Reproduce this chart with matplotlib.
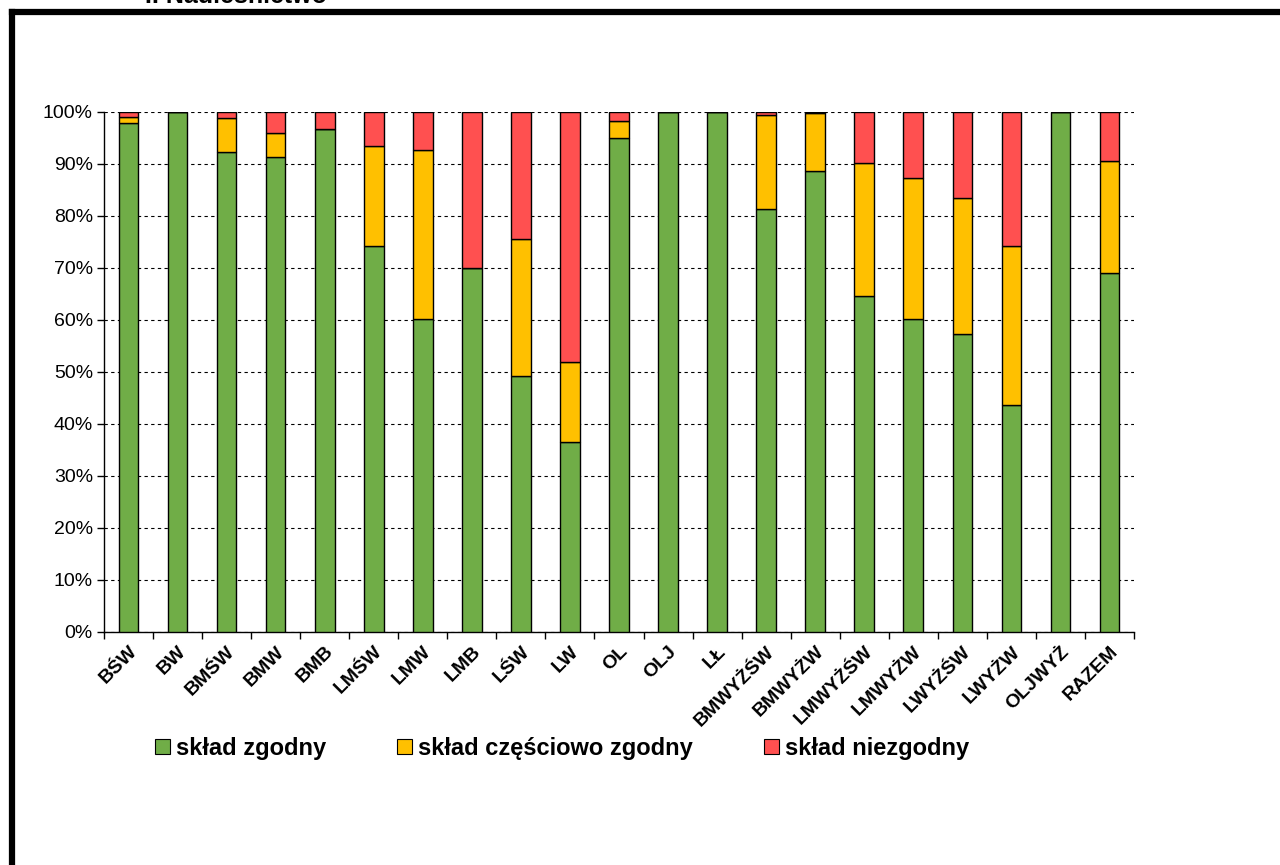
import numpy as np
import matplotlib.pyplot as plt
from matplotlib.patches import Patch
from matplotlib.lines import Line2D

plt.rcParams['font.family'] = ['Liberation Sans', 'DejaVu Sans']

categories = ['BŚW', 'BW', 'BMŚW', 'BMW', 'BMB', 'LMŚW', 'LMW', 'LMB', 'LŚW', 'LW',
              'OL', 'OLJ', 'LŁ', 'BMWYŻŚW', 'BMWYŻW', 'LMWYŻŚW', 'LMWYŻW', 'LWYŻŚW',
              'LWYŻW', 'OLJWYŻ', 'RAZEM']
zgodny = [97.9, 100, 92.2, 91.4, 96.8, 74.3, 60.2, 70.0, 49.2, 36.5,
          94.9, 100, 100, 81.4, 88.7, 64.6, 60.2, 57.3, 43.7, 100, 69.0]
czesciowo = [1.1, 0, 6.7, 4.6, 0, 19.2, 32.4, 0, 26.3, 15.4,
             3.4, 0, 0, 18.0, 11.0, 25.5, 27.0, 26.2, 30.6, 0, 21.6]
niezgodny = [1.0, 0, 1.1, 4.0, 3.2, 6.5, 7.4, 30.0, 24.5, 48.1,
             1.7, 0, 0, 0.6, 0.3, 9.9, 12.8, 16.5, 25.7, 0, 9.4]
labels = ['skład zgodny', 'skład częściowo zgodny', 'skład niezgodny']
colors = ['#70AD47', '#FFC000', '#FF5050']

g = np.array(zgodny) / 100
c = np.array(czesciowo) / 100
n = np.array(niezgodny) / 100
x = np.arange(len(categories))

fig = plt.figure(figsize=(12.8, 8.65), dpi=100)
ax = fig.add_axes([0.08125, 0.2694, 0.8047, 0.6012])

w = 0.4
ax.bar(x, g, w, color=colors[0], edgecolor='black', linewidth=1, zorder=3)
ax.bar(x, c, w, bottom=g, color=colors[1], edgecolor='black', linewidth=1, zorder=3)
ax.bar(x, n, w, bottom=g + c, color=colors[2], edgecolor='black', linewidth=1, zorder=3)

ax.set_xlim(-0.5, len(categories) - 0.5)
ax.set_ylim(0, 1)
ax.set_yticks(np.arange(0, 1.01, 0.1))
ax.set_yticklabels([f'{int(round(v * 100))}%' for v in np.arange(0, 1.01, 0.1)], fontsize=14)
ax.yaxis.grid(True, color='black', linestyle=(0, (3, 3)), linewidth=0.8, zorder=0)

ax.set_xticks(np.arange(-0.5, len(categories), 1))
ax.set_xticklabels([])
ax.set_xticks(x, minor=True)
ax.set_xticklabels(categories, minor=True, rotation=45, ha='right',
                   rotation_mode='anchor', fontsize=14, fontweight='bold')
ax.tick_params(axis='x', which='minor', length=0, pad=8)
ax.tick_params(axis='x', which='major', length=5, direction='out', width=1)
ax.tick_params(axis='y', length=5, direction='out', width=1, pad=3)

for s in ['top', 'right']:
    ax.spines[s].set_visible(False)
for s in ['left', 'bottom']:
    ax.spines[s].set_linewidth(1)

handles = [Patch(facecolor=col, edgecolor='black', linewidth=0.8) for col in colors]
fig.legend(handles, labels, ncol=3, loc='center', bbox_to_anchor=(0.439, 0.135),
           frameon=False, prop={'size': 17, 'weight': 'bold'},
           handlelength=0.65, handleheight=0.65, handletextpad=0.25, columnspacing=3.0)

# frame
fig.add_artist(Line2D([12 / 1280, 12 / 1280], [0, 1 - 12 / 865], color='black', lw=4.5,
                      transform=fig.transFigure, solid_capstyle='projecting'))
fig.add_artist(Line2D([12 / 1280, 1], [1 - 12 / 865, 1 - 12 / 865], color='black', lw=4.5,
                      transform=fig.transFigure, solid_capstyle='projecting'))
fig.text(145 / 1280, 1 - 3 / 865, 'I. Nadleśnictwo', fontsize=18, fontweight='bold',
         va='baseline', ha='left')

fig.savefig('out.png', dpi=100)
